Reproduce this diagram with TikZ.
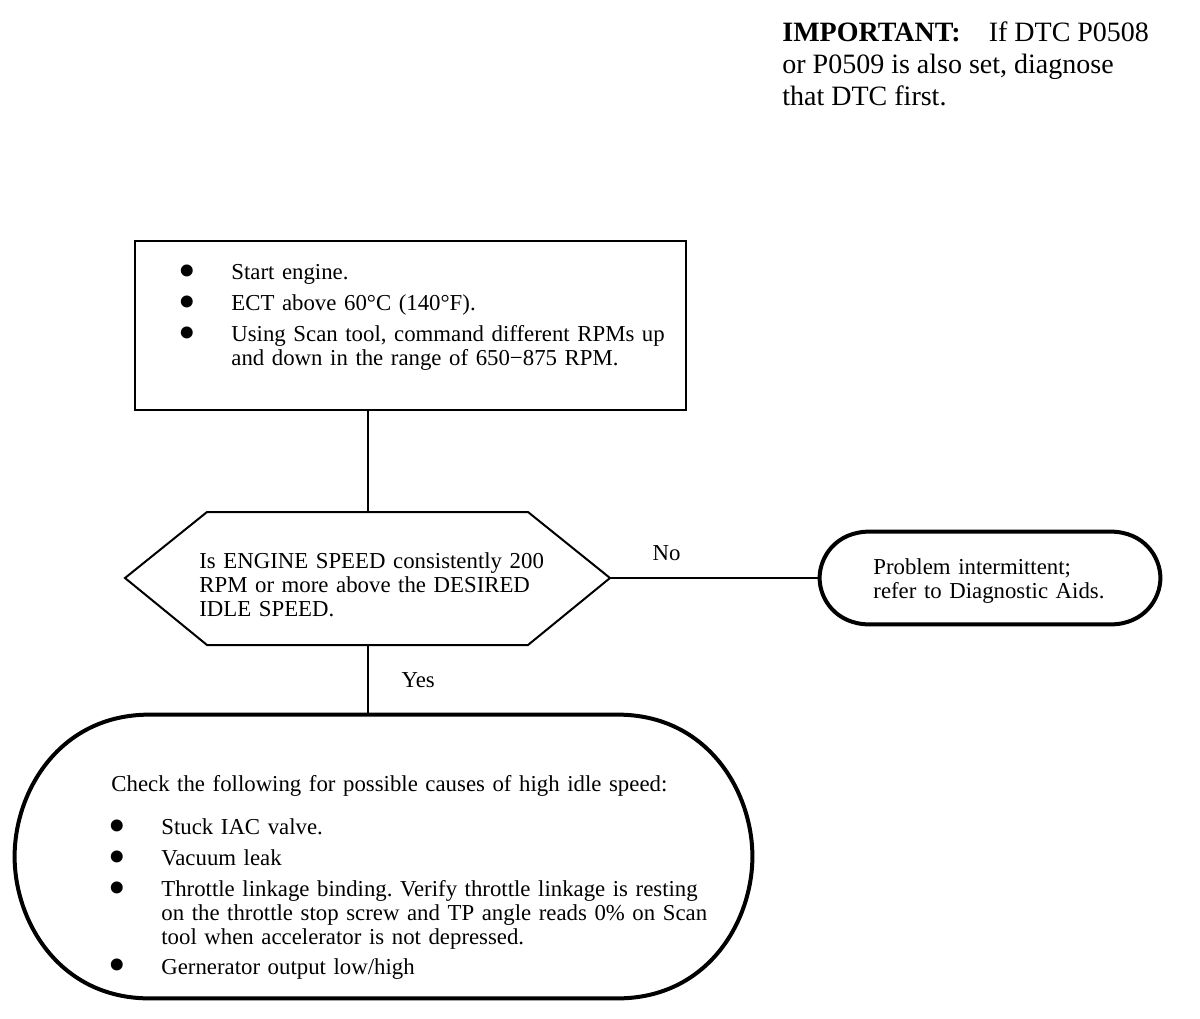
\documentclass[tikz,border=0pt]{standalone}
\usepackage{fontspec}
\setmainfont{Liberation Serif}
\usepackage{tikz}
\usetikzlibrary{calc}
\frenchspacing

\newcommand{\dotmark}{{\fontsize{25}{12}\selectfont\textbullet}}
\newcommand{\itm}[1]{\par\noindent\makebox[25pt][l]{\hspace{-1.5pt}\raisebox{-3.8pt}[0pt][0pt]{\dotmark}}\parbox[t]{\dimexpr\linewidth-25pt}{\raggedright #1}}
\newcommand{\pill}[2]{%
  \draw[pillline] ($(#1.north west)+(#2,0)$) -- ($(#1.north east)+(-#2,0)$)
    .. controls ($(#1.north east)+(-#2/3,0)$) and ($(#1.east)!0.46!(#1.north east)$) .. (#1.east)
    .. controls ($(#1.east)!0.46!(#1.south east)$) and ($(#1.south east)+(-#2/3,0)$) .. ($(#1.south east)+(-#2,0)$)
    -- ($(#1.south west)+(#2,0)$)
    .. controls ($(#1.south west)+(#2/3,0)$) and ($(#1.west)!0.46!(#1.south west)$) .. (#1.west)
    .. controls ($(#1.west)!0.46!(#1.north west)$) and ($(#1.north west)+(#2/3,0)$) .. ($(#1.north west)+(#2,0)$) -- cycle;}

\begin{document}
\begin{tikzpicture}[x=0.5pt,y=-0.5pt,
  txt/.style={font=\fontsize{11.4}{12}\selectfont, inner sep=0pt, align=left, anchor=north west,
    execute at begin node=\setlength{\parskip}{3.5pt}},
  box/.style={draw, line width=1pt, inner sep=0pt},
  flow/.style={line width=1pt},
  pillline/.style={line width=2pt}]
  \useasboundingbox (0,0) rectangle (1200,1018);

  \node[anchor=north west, inner sep=0pt, align=left, font=\fontsize{14}{16.2}\selectfont] (important) at (782,21)
    {\textbf{IMPORTANT:}\quad If DTC P0508\\or P0509 is also set, diagnose\\that DTC first.};

  \node[box, minimum width=275.5pt, minimum height=84.5pt] (setup) at (410.5,325.5) {};
   \node[txt, text width=250pt] (setuptxt) at (181,248) {\itm{Start engine.}
     \itm{ECT above 60°C (140°F).}
     \itm{Using Scan tool, command different RPMs up\\and down in the range of 650−875 RPM.}};

  \coordinate (askW) at (125,578);
  \coordinate (askN) at (368,512);
  \coordinate (askE) at (610,578);
  \coordinate (askS) at (368,645);
   \draw[flow] (askW) -- (207,512) -- (528,512) -- (askE) -- (528,645) -- (207,645) -- cycle;
   \node[txt, text width=190pt] (ask) at (199,552) {Is ENGINE SPEED consistently 200\\RPM or more above the DESIRED\\IDLE SPEED.};

  \node[inner sep=0pt, minimum width=170pt, minimum height=46pt] (fault) at (990,578) {};
   \pill{fault}{50}
   \node[txt, text width=130pt] (faulttxt) at (873,558) {Problem intermittent;\\refer to Diagnostic Aids.};

  \node[inner sep=0pt, minimum width=368.5pt, minimum height=141.5pt] (causes) at (383.5,856.5) {};
   \pill{causes}{135}
   \node[txt, text width=310pt] (causestxt) at (111,775) {Check the following for possible causes of high idle speed:\par\vspace{6pt}
     \itm{Stuck IAC valve.}
     \itm{Vacuum leak}
     \itm{Throttle linkage binding. Verify throttle linkage is resting\\on the throttle stop screw and TP angle reads 0\% on Scan\\tool when accelerator is not depressed.}
     \itm{Gernerator output low/high}};

  \draw[flow] (setup.south -| askN) -- (askN);
  \draw[flow] (askE) -- (fault.west) node[pos=0.27, above=5pt, font=\fontsize{11.4}{12}\selectfont] {No};
  \draw[flow] (askS) -- (askS |- causes.north) node[midway, right=13pt, font=\fontsize{11.4}{12}\selectfont] {Yes};
\end{tikzpicture}
\end{document}
